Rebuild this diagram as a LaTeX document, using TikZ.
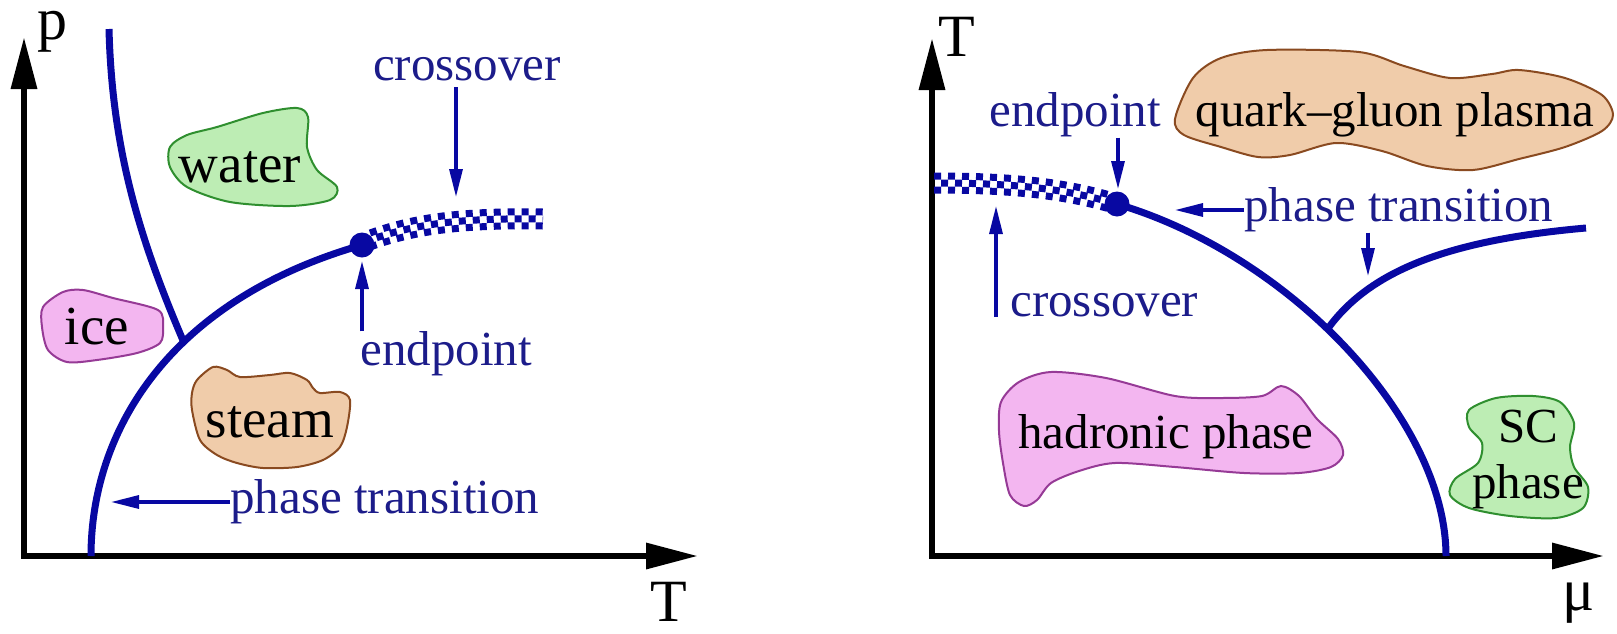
\documentclass[tikz,border=0pt]{standalone}
\usepackage{fontspec}
\setmainfont{Liberation Serif}
\usetikzlibrary{arrows.meta}
\definecolor{lineblue}{HTML}{0808A2}
\definecolor{textblue}{HTML}{1C1C8A}
\definecolor{blobgreen}{HTML}{BDEDB4}
\definecolor{edgegreen}{HTML}{2F8F2F}
\definecolor{blobpink}{HTML}{F3B6F0}
\definecolor{edgepink}{HTML}{963A96}
\definecolor{blobtan}{HTML}{F0CCAA}
\definecolor{edgetan}{HTML}{8A4A20}
\newcommand{\axisfont}{\fontsize{30}{34}\selectfont}
\newcommand{\lblfont}{\fontsize{24.5}{28}\selectfont}
\newcommand{\bigphasefont}{\fontsize{27.5}{30}\selectfont}
\newcommand{\phasefont}{\fontsize{24.5}{28}\selectfont}

\begin{document}
\begin{tikzpicture}[
  x=0.5pt, y=-0.5pt,
  axis/.style={line width=3.2pt, {Triangle[length=26pt,width=12.5pt]}-{Triangle[length=26pt,width=12.5pt]}},
  phaseline/.style={draw=lineblue, line width=3.5pt},
  checkline/.style={draw=lineblue, line width=3.5pt, dash pattern=on 3.5pt off 3.5pt},
  lblarrow/.style={draw=lineblue, line width=1.6pt, -{Triangle[length=14pt,width=6.5pt]}},
  lbl/.style={text=textblue, font=\lblfont, inner sep=0pt},
  axlbl/.style={font=\axisfont, inner sep=0pt},
  epdot/.style={circle, fill=lineblue, inner sep=0pt, minimum size=12.5pt},
  blob/.style={line width=1pt},
  greenblob/.style={blob, draw=edgegreen, fill=blobgreen},
  pinkblob/.style={blob, draw=edgepink, fill=blobpink},
  tanblob/.style={blob, draw=edgetan, fill=blobtan},
  phaselbl/.style={font=\phasefont, inner sep=0pt, align=center}
]
  \fill[white] (0,0) rectangle (1617,633);
  \useasboundingbox (0,0) rectangle (1617,633);

  % ---- water diagram ----
  \draw[greenblob] plot[smooth cycle] coordinates {(170,147) (187,135) (217,127) (263,113) (297,108) (308,117) (307,147) (317,170) (337,187) (330,200) (290,206) (230,202) (187,187) (170,167)};
  \draw[pinkblob] plot[smooth cycle] coordinates {(43,307) (63,292) (83,290) (113,298) (158,310) (163,327) (160,343) (137,353) (97,360) (67,362) (48,350) (42,327)};
  \draw[tanblob] plot[smooth cycle] coordinates {(197,380) (213,367) (227,370) (240,377) (270,375) (290,373) (307,380) (313,388) (320,393) (340,392) (350,400) (347,427) (340,447) (323,460) (297,467) (263,468) (237,463) (217,455) (200,440) (192,410) (192,393)};
  \node[phaselbl, font=\bigphasefont] (water) at (240,167) {water};
  \node[phaselbl, font=\bigphasefont] (ice) at (97,327) {ice};
  \node[phaselbl, font=\bigphasefont] (steam) at (270,422) {steam};

  \coordinate (oL) at (24,556);
  \coordinate (pTip) at (24,37);
  \coordinate (TTip) at (698,556);
  \draw[axis] (pTip) -- (oL) -- (TTip);
  \node[axlbl] (pLbl) at (52,32) {p};
  \node[axlbl] (TLbl) at (669,602) {T};

  \draw[phaseline] (91,556) .. controls (91,430) and (170,300) .. (362,245)
    coordinate[pos=0.6] (triple);
  \draw[phaseline] (109,29) .. controls (112,150) and (140,240) .. (triple);
  \foreach \s/\p in {3.5pt/0pt, 0pt/3.5pt, -3.5pt/0pt}
    \draw[checkline, yshift=\s, dash phase=\p] (370,240) .. controls (420,222) and (470,218) .. (543,219);
  \node[epdot] (epL) at (362,245) {};

  \node[lbl] (cxL) at (467,69) {crossover};
  \coordinate (cxLtip) at (456,197);
  \draw[lblarrow] ([yshift=-3pt]cxLtip |- cxL.south) -- (cxLtip);
  \node[lbl, anchor=west] (epLlbl) at (360,354) {endpoint};
  \coordinate (epLtip) at (362,261);
  \draw[lblarrow] (epLtip |- epLlbl.north) -- (epLtip);
  \node[lbl, anchor=west] (ptL) at (230,502) {phase transition};
  \coordinate (ptLtip) at (111,502);
  \draw[lblarrow] (ptL.west) -- (ptLtip);

  % ---- QCD diagram ----
  \draw[tanblob] plot[smooth cycle] coordinates {(1175,119) (1193,78) (1221,58) (1267,50) (1359,52) (1404,66) (1450,78) (1492,74) (1519,70) (1565,78) (1602,95) (1613,115) (1602,131) (1565,147) (1519,159) (1473,170) (1427,166) (1382,151) (1336,143) (1290,155) (1258,157) (1221,147) (1184,135)};
  \draw[pinkblob] plot[smooth cycle] coordinates {(1001,402) (1019,382) (1051,372) (1106,378) (1175,396) (1221,398) (1262,396) (1281,386) (1299,396) (1317,419) (1338,439) (1343,455) (1331,467) (1299,473) (1244,473) (1175,467) (1115,463) (1079,471) (1051,483) (1037,500) (1024,506) (1010,495) (1003,463) (999,431)};
  \draw[greenblob] plot[smooth cycle] coordinates {(1469,410) (1496,398) (1533,396) (1560,402) (1574,423) (1570,447) (1574,467) (1588,487) (1583,508) (1556,518) (1510,516) (1469,508) (1450,495) (1455,479) (1478,463) (1482,443) (1469,427)};
  \node[phaselbl] (qgp) at (1395,115) {quark–gluon plasma};
  \node[phaselbl] (hadr) at (1166,437) {hadronic phase};
  \node[phaselbl] (sc) at (1528,459) {SC\\phase};

  \coordinate (oR) at (932,556);
  \coordinate (TRTip) at (932,38);
  \coordinate (muTip) at (1604,556);
  \draw[axis] (TRTip) -- (oR) -- (muTip);
  \node[axlbl] (TRLbl) at (957,37) {T};
  \node[axlbl] (muLbl) at (1579,603) {μ};

  \draw[phaseline] (1117,204) .. controls (1290,255) and (1446,420) .. (1446,556)
    coordinate[pos=0.45] (fork);
  \draw[phaseline] (fork) .. controls (1370,270) and (1450,240) .. (1586,228);
  \foreach \s/\p in {3.5pt/0pt, 0pt/3.5pt, -3.5pt/0pt}
    \draw[checkline, yshift=\s, dash phase=\p] (934,183) .. controls (1010,183) and (1060,188) .. (1110,202);
  \node[epdot] (epR) at (1117,204) {};

  \node[lbl] (epRlbl) at (1075,115) {endpoint};
  \coordinate (epRtip) at (1118,189);
  \draw[lblarrow] (epRtip |- epRlbl.south) -- (epRtip);
  \node[lbl, anchor=west] (ptR) at (1244,210) {phase transition};
  \coordinate (ptRtip) at (1175,210);
  \draw[lblarrow] (ptR.west) -- (ptRtip);
  \coordinate (ptRtip2) at (1368,276);
  \draw[lblarrow] (ptRtip2 |- ptR.south) -- (ptRtip2);
  \node[lbl, anchor=west] (cxR) at (1010,305) {crossover};
  \coordinate (cxRtip) at (996,206);
  \draw[lblarrow] (cxRtip |- cxR.south) -- (cxRtip);
\end{tikzpicture}
\end{document}
